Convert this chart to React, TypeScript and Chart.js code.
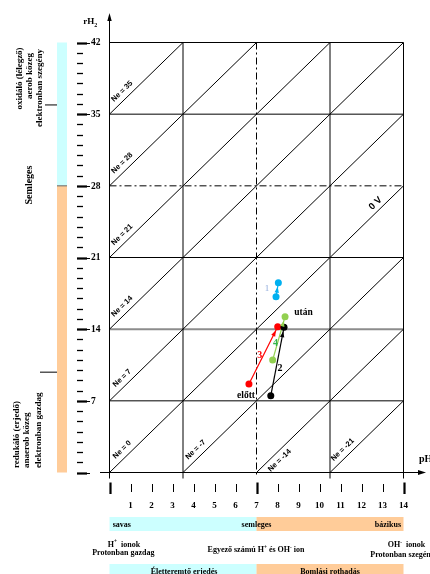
import React, { useEffect, useRef } from 'react';
import { Chart, registerables } from 'chart.js';

Chart.register(...registerables);

// ---------------- data ----------------
const SERIES_LABELS = ['1', '2', '3', '4'];
const SERIES_COLORS = ['#00b0f0', '#000000', '#ff0000', '#92d050'];
const SERIES_TEXT_COLORS = ['#8eaadb', '#000000', '#ff0000', '#33b34a'];
const PH_BEFORE = [7.93, 7.68, 6.64, 7.77];
const RH_BEFORE = [17.17, 7.5, 8.64, 10.99];
const PH_AFTER = [8.04, 8.31, 8.01, 8.36];
const RH_AFTER = [18.54, 14.18, 14.24, 15.22];
const NE_VALUES = [35, 28, 21, 14, 7, 0, -7, -14, -21];
const RH_MAJOR = [0, 7, 14, 21, 28, 35, 42];
const PH_GRID = [0, 3.5, 7, 10.5, 14];
const PH_TICK_LABELS = ['1', '2', '3', '4', '5', '6', '7', '8', '9', '10', '11', '12', '13', '14'];
const PH_MIN = 0;
const PH_MAX = 14;
const RH_MIN = 0;
const RH_MAX = 42;

const SERIF = '"Liberation Serif", "Times New Roman", serif';
const SANS = '"Liberation Sans", Arial, sans-serif';
const CYAN = '#ccffff';
const ORANGE = '#ffcc99';

type Part = { t: string; sup?: boolean };

function rich(ctx: CanvasRenderingContext2D, parts: Part[], x: number, baseline: number, size: number, align: 'left' | 'center' | 'right', color = '#000') {
  const mainFont = `bold ${size}px ${SERIF}`;
  const supFont = `bold ${size * 0.65}px ${SERIF}`;
  let w = 0;
  const widths = parts.map((p) => {
    ctx.font = p.sup ? supFont : mainFont;
    const m = ctx.measureText(p.t).width;
    w += m;
    return m;
  });
  let cx = align === 'left' ? x : align === 'center' ? x - w / 2 : x - w;
  ctx.textAlign = 'left';
  ctx.textBaseline = 'alphabetic';
  ctx.fillStyle = color;
  parts.forEach((p, i) => {
    ctx.font = p.sup ? supFont : mainFont;
    ctx.fillText(p.t, cx, p.sup ? baseline - size * 0.42 : baseline);
    cx += widths[i];
  });
}

function arrowHead(ctx: CanvasRenderingContext2D, tx: number, ty: number, ang: number, len: number, hw: number, color: string) {
  ctx.save();
  ctx.translate(tx, ty);
  ctx.rotate(ang);
  ctx.beginPath();
  ctx.moveTo(0, 0);
  ctx.lineTo(-len, -hw);
  ctx.lineTo(-len, hw);
  ctx.closePath();
  ctx.fillStyle = color;
  ctx.fill();
  ctx.restore();
}

function rotText(ctx: CanvasRenderingContext2D, text: string, cx: number, cy: number, font: string, align: CanvasTextAlign) {
  ctx.save();
  ctx.translate(cx, cy);
  ctx.rotate(-Math.PI / 2);
  ctx.font = font;
  ctx.textAlign = align;
  ctx.textBaseline = 'middle';
  ctx.fillStyle = '#000';
  ctx.fillText(text, 0, 0);
  ctx.restore();
}

function line(ctx: CanvasRenderingContext2D, x0: number, y0: number, x1: number, y1: number, w = 1, color = '#000', dash: number[] = []) {
  ctx.beginPath();
  ctx.setLineDash(dash);
  ctx.strokeStyle = color;
  ctx.lineWidth = w;
  ctx.moveTo(x0, y0);
  ctx.lineTo(x1, y1);
  ctx.stroke();
  ctx.setLineDash([]);
}

const gridPlugin = {
  id: 'ehGrid',
  beforeDatasetsDraw(chart: any) {
    const { ctx, chartArea: a, scales } = chart;
    const x = scales.x;
    const y = scales.y;
    ctx.save();
    RH_MAJOR.forEach((v) => {
      if (v === RH_MIN) return;
      const py = y.getPixelForValue(v);
      if (v === 28) line(ctx, a.left, py, a.right, py, 1, '#000', [7, 3, 2, 3]);
      else if (v === 14) line(ctx, a.left, py, a.right, py, 2, '#8c8c8c');
      else line(ctx, a.left, py, a.right, py, 1, '#000');
    });
    PH_GRID.forEach((v) => {
      if (v === PH_MIN) return;
      const px = x.getPixelForValue(v);
      if (v === 7) line(ctx, px, a.top, px, a.bottom + 5, 1, '#000', [7, 3, 2, 3]);
      else line(ctx, px, a.top, px, a.bottom + 6, 1, '#000');
    });
    ctx.restore();
  },
};

const decorPlugin = {
  id: 'ehDecor',
  afterDraw(chart: any) {
    const { ctx, chartArea: a, scales } = chart;
    const X = (v: number) => scales.x.getPixelForValue(v);
    const Y = (v: number) => scales.y.getPixelForValue(v);
    ctx.save();

    // arrow heads
    SERIES_LABELS.forEach((_, i) => {
      const x0 = X(PH_BEFORE[i]);
      const y0 = Y(RH_BEFORE[i]);
      const x1 = X(PH_AFTER[i]);
      const y1 = Y(RH_AFTER[i]);
      const ang = Math.atan2(y1 - y0, x1 - x0);
      arrowHead(ctx, x1 - Math.cos(ang) * 4, y1 - Math.sin(ang) * 4, ang, 6, 2.2, SERIES_COLORS[i]);
    });

    // series labels
    const lbl = (t: string, ph: number, rh: number, color: string, font: string) => {
      ctx.font = font;
      ctx.fillStyle = color;
      ctx.textAlign = 'center';
      ctx.textBaseline = 'middle';
      ctx.fillText(t, X(ph), Y(rh));
    };
    lbl(SERIES_LABELS[0], 7.5, 17.92, SERIES_TEXT_COLORS[0], `9px ${SERIF}`);
    lbl(SERIES_LABELS[1], 8.12, 10.2, SERIES_TEXT_COLORS[1], `bold 10px ${SERIF}`);
    lbl(SERIES_LABELS[2], 7.15, 11.48, SERIES_TEXT_COLORS[2], `bold 10px ${SERIF}`);
    lbl(SERIES_LABELS[3], 7.91, 12.65, SERIES_TEXT_COLORS[3], `bold 10px ${SERIF}`);
    lbl('előtt', 6.5, 7.52, '#000', `bold 9.5px ${SERIF}`);
    lbl('után', 9.24, 15.63, '#000', `bold 9.5px ${SERIF}`);

    // Ne labels along diagonals
    const dxPx = X(3.5) - X(0);
    const dyPx = Y(7) - Y(0);
    const len = Math.hypot(dxPx, dyPx);
    const ang = Math.atan2(dyPx, dxPx);
    const nx = dyPx / len;
    const ny = -dxPx / len;
    const diagLabel = (t: string, ph: number, rh: number, off: number, font: string) => {
      ctx.save();
      ctx.translate(X(ph) + nx * off, Y(rh) + ny * off);
      ctx.rotate(ang);
      ctx.font = font;
      ctx.fillStyle = '#000';
      ctx.textAlign = 'center';
      ctx.textBaseline = 'middle';
      ctx.fillText(t, 0, 0);
      ctx.restore();
    };
    NE_VALUES.forEach((c) => {
      const ph0 = Math.max(PH_MIN, (RH_MIN - c) / 2);
      const ph = ph0 + 0.85;
      const side = c === -14 ? -1 : 1;
      diagLabel(`Ne = ${c}`, ph, 2 * ph + c, 7.5 * side, `bold 7.5px ${SANS}`);
    });
    diagLabel('0 V', 12.9, 2 * 12.9, 7, `bold 9.5px ${SANS}`);

    // axes arrows
    const y0 = Y(RH_MIN);
    line(ctx, 100, y0, 419, y0, 1);
    arrowHead(ctx, 426, y0, 0, 8, 2.5, '#000');
    line(ctx, a.left, y0 + 6, a.left, 21, 1);
    arrowHead(ctx, a.left, 13, -Math.PI / 2, 8, 2.2, '#000');

    // axis titles
    rich(ctx, [{ t: 'rH' }], 94.3, 24, 9, 'right');
    ctx.font = `bold 6px ${SERIF}`;
    ctx.textAlign = 'left';
    ctx.fillText('2', 94.3, 26.5);
    rich(ctx, [{ t: 'pH' }], 419, 462, 10, 'left');

    // left rH ruler
    for (let v = RH_MIN; v <= RH_MAX; v++) {
      const py = Math.round(Y(v)) + 0.5;
      if (v % 7 === 0) {
        line(ctx, 77, py, 87, py, 2.2);
        line(ctx, 86, py, 90, py, 1);
      } else {
        line(ctx, 77, py, 83, py, 1.3);
      }
    }
    ctx.font = `bold 9.5px ${SERIF}`;
    ctx.fillStyle = '#000';
    ctx.textAlign = 'left';
    ctx.textBaseline = 'middle';
    RH_MAJOR.forEach((v) => {
      if (v === RH_MIN) return;
      ctx.fillText(String(v), 91, Y(v) + 0.5);
    });

    // left coloured bar
    ctx.fillStyle = CYAN;
    ctx.fillRect(57, Y(42), 10, Y(28) - Y(42));
    ctx.fillStyle = ORANGE;
    ctx.fillRect(57, Y(28), 10, Y(0) - Y(28));
    line(ctx, 57, Y(28), 67, Y(28), 1, '#666');
    line(ctx, 45, Y(35.9), 57, Y(35.9), 1);
    line(ctx, 40, Y(9.8), 57, Y(9.8), 1);

    const f9 = `bold 9px ${SERIF}`;
    rotText(ctx, 'oxidáló (lélegző)', 19.5, 78.5, f9, 'center');
    rotText(ctx, 'aerob közeg', 29.5, 76, f9, 'center');
    rotText(ctx, 'elektronban szegény', 39.5, 88, f9, 'center');
    rotText(ctx, 'Semleges', 29, 185, `bold 10px ${SERIF}`, 'center');
    rotText(ctx, 'redukáló (erjedő)', 16.5, 468, f9, 'left');
    rotText(ctx, 'anaerob közeg', 27, 468, f9, 'left');
    rotText(ctx, 'elektronban gazdag', 38.5, 468, f9, 'left');

    // pH ruler
    for (let v = PH_MIN; v <= PH_MAX; v++) {
      const px = Math.round(X(v)) + 0.5;
      if (v % 7 === 0) line(ctx, px, 482.5, px, 494, 2.2);
      else line(ctx, px, 484, px, 492, 1);
    }
    ctx.font = `bold 9px ${SERIF}`;
    ctx.fillStyle = '#000';
    ctx.textAlign = 'center';
    ctx.textBaseline = 'middle';
    PH_TICK_LABELS.forEach((t, i) => ctx.fillText(t, X(i + 1), 505.5));

    // band 1
    ctx.fillStyle = CYAN;
    ctx.fillRect(X(0), 517, X(7) - X(0), 14);
    ctx.fillStyle = ORANGE;
    ctx.fillRect(X(7), 517, X(14) - X(7), 14);
    rich(ctx, [{ t: 'savas' }], 112.7, 526.5, 8, 'left');
    rich(ctx, [{ t: 'semleges' }], X(7), 526.5, 8, 'center');
    rich(ctx, [{ t: 'bázikus' }], 401, 526.5, 8, 'right');

    // description rows
    rich(ctx, [{ t: 'H' }, { t: '+', sup: true }, { t: '  ionok' }], 124, 546.5, 8, 'center');
    rich(ctx, [{ t: 'Protonban gazdag' }], 123.3, 555, 8, 'center');
    rich(ctx, [{ t: 'Egyező számú H' }, { t: '+', sup: true }, { t: ' és OH' }, { t: '-', sup: true }, { t: ' ion' }], 256, 552, 8, 'center');
    rich(ctx, [{ t: 'OH' }, { t: '-', sup: true }, { t: '  ionok' }], 406.5, 547, 8, 'center');
    rich(ctx, [{ t: 'Protonban szegény' }], 402.5, 557, 8, 'center');

    // band 2
    ctx.fillStyle = CYAN;
    ctx.fillRect(X(0), 564, X(7) - X(0), 12);
    ctx.fillStyle = ORANGE;
    ctx.fillRect(X(7), 564, X(14) - X(7), 12);
    rich(ctx, [{ t: 'Életteremtő erjedés' }], 184, 573.5, 8, 'center');
    rich(ctx, [{ t: 'Bomlási rothadás' }], 330, 573.5, 8, 'center');

    ctx.restore();
  },
};

export default function App() {
  const ref = useRef<HTMLCanvasElement | null>(null);

  useEffect(() => {
    if (!ref.current) return;

    const markerSets = SERIES_LABELS.map((l, i) => ({
      label: `pont ${l}`,
      data: [
        { x: PH_BEFORE[i], y: RH_BEFORE[i] },
        { x: PH_AFTER[i], y: RH_AFTER[i] },
      ],
      showLine: false,
      pointRadius: 3.5,
      pointBorderWidth: 0,
      pointBackgroundColor: SERIES_COLORS[i],
      borderColor: SERIES_COLORS[i],
      order: 1,
    }));

    const arrowSets = SERIES_LABELS.map((l, i) => ({
      label: `nyíl ${l}`,
      data: [
        { x: PH_BEFORE[i], y: RH_BEFORE[i] },
        { x: PH_AFTER[i], y: RH_AFTER[i] },
      ],
      showLine: true,
      borderColor: SERIES_COLORS[i],
      borderWidth: 1.2,
      pointRadius: 0,
      order: 2,
    }));

    const diagSets = NE_VALUES.map((c) => ({
      label: `Ne ${c}`,
      data: [
        { x: Math.max(PH_MIN, (RH_MIN - c) / 2), y: Math.max(RH_MIN, c) },
        { x: Math.min(PH_MAX, (RH_MAX - c) / 2), y: Math.min(RH_MAX, 2 * PH_MAX + c) },
      ],
      showLine: true,
      borderColor: '#000',
      borderWidth: 1,
      pointRadius: 0,
      order: 3,
    }));

    const chart = new Chart(ref.current, {
      type: 'scatter',
      data: { datasets: [...markerSets, ...arrowSets, ...diagSets] as any },
      options: {
        animation: false,
        responsive: false,
        maintainAspectRatio: false,
        devicePixelRatio: 1,
        layout: { padding: { left: 109.5, right: 26.5, top: 42.5, bottom: 101.5 } },
        scales: {
          x: { type: 'linear', min: PH_MIN, max: PH_MAX, display: false },
          y: { type: 'linear', min: RH_MIN, max: RH_MAX, display: false },
        },
        plugins: {
          legend: { display: false },
          tooltip: { enabled: false },
        },
      },
      plugins: [gridPlugin, decorPlugin],
    });

    return () => chart.destroy();
  }, []);

  return (
    <div style={{ position: 'absolute', left: 0, top: 0, width: 430, height: 574, background: '#fff' }}>
      <canvas ref={ref} width={430} height={574} style={{ display: 'block' }} />
    </div>
  );
}
